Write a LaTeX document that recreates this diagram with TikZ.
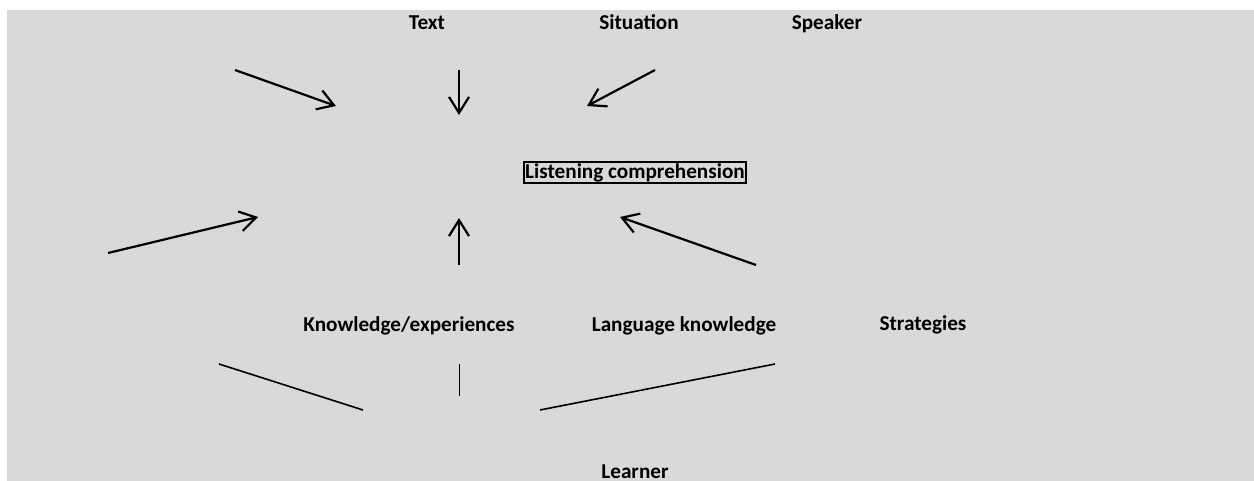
\documentclass[tikz,border=0pt]{standalone}
\usepackage{fontspec}
\setmainfont{Carlito}
\usetikzlibrary{arrows.meta}
\definecolor{panelgray}{HTML}{D9D9D9}

\begin{document}
\begin{tikzpicture}[x=0.5pt, y=-0.5pt, font=\fontsize{10.6}{12.7}\selectfont\bfseries,
  factor/.style={anchor=base, inner sep=0pt},
  inflow/.style={line width=1.1pt, -{Straight Barb[length=8pt,width=10pt]}},
  link/.style={line width=0.8pt}]
	\useasboundingbox (0,0) rectangle (1254,481);
	\fill[panelgray] (7,10) rectangle (1254,481);
	% top row
	\node[factor] (txt) at (427,30) {Text};
	\node[factor] (sit) at (639,30) {Situation};
	\node[factor] (spk) at (827,30) {Speaker};
	% centre
	\node[draw, line width=0.9pt, inner sep=0.8pt] (lc) at (635,172.5) {Listening comprehension};
	% bottom row
	\node[factor] (kno) at (409,331) {Knowledge/experiences};
	\node[factor] (lang) at (684,331) {Language knowledge};
	\node[factor] (strat) at (923,330) {Strategies};
	\node[factor] (lrn) at (635,478) {Learner};
	% arrow ends
	\coordinate (a1s) at (235,70);  \coordinate (a1e) at (336,106);
	\coordinate (a2s) at (459,70);  \coordinate (a2e) at (459,115);
	\coordinate (a3s) at (655,70);  \coordinate (a3e) at (587,106);
	\coordinate (a4s) at (108,253); \coordinate (a4e) at (258,217);
	\coordinate (a5s) at (459,265); \coordinate (a5e) at (459,218);
	\coordinate (a6s) at (756,265); \coordinate (a6e) at (620,217);
	\draw[inflow] (a1s) -- (a1e);
	\draw[inflow] (a2s) -- (a2e);
	\draw[inflow] (a3s) -- (a3e);
	\draw[inflow] (a4s) -- (a4e);
	\draw[inflow] (a5s) -- (a5e);
	\draw[inflow] (a6s) -- (a6e);
	% learner lines
	\coordinate (l1s) at (219,364); \coordinate (l1e) at (363,410);
	\coordinate (l2s) at (459,364); \coordinate (l2e) at (459,396);
	\coordinate (l3s) at (540,410); \coordinate (l3e) at (775,364);
	\draw[link] (l1s) -- (l1e);
	\draw[link, line width=0.5pt] (l2s) -- (l2e);
	\draw[link] (l3s) -- (l3e);
\end{tikzpicture}
\end{document}
